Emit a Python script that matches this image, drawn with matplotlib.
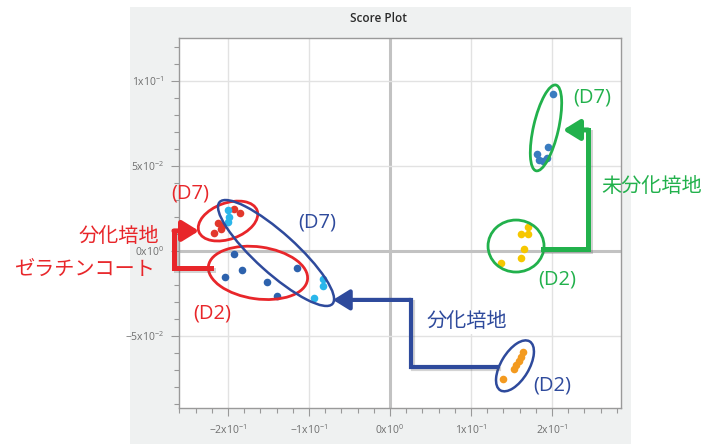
import matplotlib
matplotlib.use("Agg")
import matplotlib.pyplot as plt
import matplotlib.patheffects as pe
from matplotlib.patches import Ellipse, Rectangle
from matplotlib.transforms import ScaledTranslation
from matplotlib.ticker import FixedLocator, MultipleLocator

plt.rcParams['font.family'] = ['Open Sans', 'Noto Sans CJK JP', 'DejaVu Sans']

# ---- score values (PC1, PC2) per group ----
gel_d7_x = [-0.1926, -0.1852, -0.2123, -0.2074, -0.2086, -0.2173]
gel_d7_y = [0.0247, 0.0224, 0.0165, 0.0147, 0.0129, 0.0106]

diff_d7_x = [-0.2000, -0.1988, -0.2000, -0.0827, -0.0827, -0.0938]
diff_d7_y = [0.0241, 0.0200, 0.0171, -0.0165, -0.0206, -0.0276]

gel_d2_x = [-0.1926, -0.1827, -0.2037, -0.1519, -0.1148, -0.1395]
gel_d2_y = [-0.0018, -0.0112, -0.0153, -0.0182, -0.0100, -0.0265]

undiff_d7_x = [0.2012, 0.1951, 0.1815, 0.1840, 0.1889, 0.1938]
undiff_d7_y = [0.0924, 0.0612, 0.0571, 0.0535, 0.0529, 0.0547]

undiff_d2_x = [0.1704, 0.1617, 0.1704, 0.1654, 0.1617, 0.1370]
undiff_d2_y = [0.0141, 0.0100, 0.0100, 0.0012, -0.0041, -0.0071]

diff_d2_x = [0.1642, 0.1617, 0.1593, 0.1556, 0.1531, 0.1395]
diff_d2_y = [-0.0594, -0.0624, -0.0647, -0.0671, -0.0694, -0.0753]

x_ticks = [-0.2, -0.1, 0.0, 0.1, 0.2]
x_labels = ["-2x10^{-1}", "-1x10^{-1}", "0x10^{0}", "1x10^{-1}", "2x10^{-1}"]
y_ticks = [-0.05, 0.0, 0.05, 0.1]
y_labels = ["-5x10^{-2}", "0x10^{0}", "5x10^{-2}", "1x10^{-1}"]

RED = '#e8262a'
BLUE = '#2e4a9c'
GREEN = '#22b14c'

W, H = 717, 444
fig = plt.figure(figsize=(W / 100, H / 100), dpi=100)


def fx(px):
    return px / W


def fy(py):
    return 1 - py / H


# grey panel behind the plot
fig.patches.append(Rectangle((fx(130), 0), fx(631) - fx(130), fy(7),
                             transform=fig.transFigure, facecolor='#eff1f1',
                             edgecolor='none', zorder=-10))

ax = fig.add_axes([fx(179), fy(408), fx(621) - fx(179), fy(38) - fy(408)])
ax.set_facecolor('white')
ax.set_xlim(-0.2605, 0.2852)
ax.set_ylim(-0.0924, 0.1253)

ax.xaxis.set_major_locator(FixedLocator(x_ticks))
ax.yaxis.set_major_locator(FixedLocator(y_ticks))
ax.xaxis.set_minor_locator(MultipleLocator(0.02))
ax.yaxis.set_minor_locator(MultipleLocator(0.01))
ax.set_xticklabels([r'$\mathregular{%s}$' % s for s in x_labels])
ax.set_yticklabels([r'$\mathregular{%s}$' % s for s in y_labels])
ax.tick_params(which='major', direction='out', length=6, width=0.8,
               color='#999999', labelsize=7.5, labelcolor='#6f6f6f', pad=5)
ax.tick_params(which='minor', direction='out', length=3.5, width=0.8,
               color='#999999')
for s in ax.spines.values():
    s.set_color('#9a9a9a')
    s.set_linewidth(1)

for t in x_ticks:
    ax.axvline(t, color='#c2c2c2' if t == 0 else '#e2e2e2',
               lw=2.2 if t == 0 else 1, zorder=0)
for t in y_ticks:
    ax.axhline(t, color='#c2c2c2' if t == 0 else '#e2e2e2',
               lw=2.2 if t == 0 else 1, zorder=0)

fig.text(fx(378), fy(18), 'Score Plot', ha='center', va='center',
         fontsize=8.5, color='#2a2a2a', fontweight='semibold')

# ---- scores ----
ms = 30
ax.scatter(gel_d7_x, gel_d7_y, s=ms, color='#e2382c', zorder=4, linewidths=0)
ax.scatter(diff_d7_x, diff_d7_y, s=ms, color='#2bb6ea', zorder=4, linewidths=0)
ax.scatter(gel_d2_x, gel_d2_y, s=ms, color='#2d62ad', zorder=4, linewidths=0)
ax.scatter(undiff_d7_x, undiff_d7_y, s=ms, color='#3a7cc0', zorder=4, linewidths=0)
ax.scatter(undiff_d2_x, undiff_d2_y, s=ms, color='#f6c700', zorder=4, linewidths=0)
ax.scatter(diff_d2_x, diff_d2_y, s=ms, color='#f39a1f', zorder=4, linewidths=0)


# ---- group rings (size in pixels, centre in data units) ----
def ring(cx, cy, w, h, angle, color, lw=2.0):
    tr = fig.dpi_scale_trans + ScaledTranslation(cx, cy, ax.transData)
    e = Ellipse((0, 0), w / 100, h / 100, angle=angle, transform=tr,
                fill=False, edgecolor=color, lw=lw, zorder=5, clip_on=False)
    ax.add_artist(e)


ring(-0.2000, 0.0176, 62, 36, 20, RED)
ring(-0.1630, -0.0129, 100, 52, -8, RED)
ring(-0.1407, -0.0012, 152, 40, -42, BLUE, 1.8)
ring(0.1926, 0.0724, 88, 25, 77, GREEN)
ring(0.1556, 0.0029, 56, 52, 0, GREEN)
ring(0.1543, -0.0676, 57, 28, 59, BLUE, 1.8)

shadow = [pe.SimpleLineShadow(offset=(1.5, -1.5), alpha=0.25, shadow_color='#555555'),
          pe.Normal()]


def elbow(points, color, lw):
    xs = [p[0] for p in points[:-1]]
    ys = [p[1] for p in points[:-1]]
    ax.plot(xs, ys, color=color, lw=lw, solid_joinstyle='miter',
            solid_capstyle='projecting', clip_on=False, zorder=6,
            path_effects=shadow)
    ax.annotate('', xy=points[-1], xytext=points[-2],
                arrowprops=dict(arrowstyle='-|>,head_length=0.55,head_width=0.34',
                                color=color, lw=lw, shrinkA=0, shrinkB=0,
                                mutation_scale=18),
                annotation_clip=False, zorder=6)


elbow([(-0.2210, -0.0100), (-0.2667, -0.0100), (-0.2667, 0.0118), (-0.2358, 0.0118)],
      RED, 3.6)
elbow([(0.1321, -0.0682), (0.0259, -0.0682), (0.0259, -0.0288), (-0.0704, -0.0288)],
      BLUE, 3.0)
elbow([(0.1889, 0.0012), (0.2444, 0.0012), (0.2444, 0.0712), (0.2136, 0.0712)],
      GREEN, 3.6)

# ---- labels ----
def label(px, py, s, color, size=14.5, box=False):
    kw = {}
    if box:
        kw['bbox'] = dict(facecolor='white', edgecolor='none', pad=1.5)
    fig.text(fx(px), fy(py), s, ha='center', va='center', color=color,
             fontsize=size, zorder=10, **kw)


label(190, 193, '(D7)', RED)
label(119, 237, '分化培地', RED)
label(84, 270, 'ゼラチンコート', RED)
label(212, 313, '(D2)', RED)
label(317, 222, '(D7)', BLUE)
label(467, 322, '分化培地', BLUE, box=True)
label(552, 385, '(D2)', BLUE)
label(592, 98, '(D7)', GREEN, box=True)
label(652, 187, '未分化培地', GREEN)
label(557, 280, '(D2)', GREEN)

fig.savefig('out.png', dpi=100)
